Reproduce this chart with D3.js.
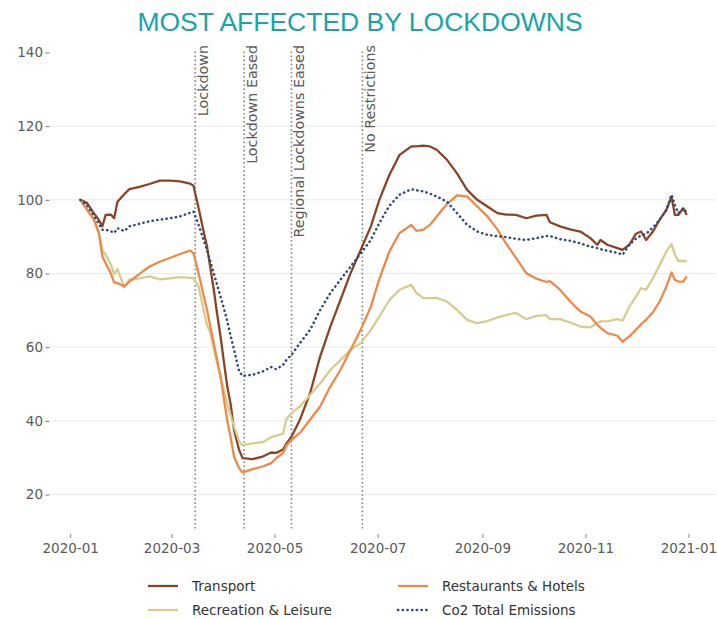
<!DOCTYPE html>
<html>
<head>
<meta charset="utf-8">
<script src="https://cdn.jsdelivr.net/npm/d3@7"></script>
<style>
  body { margin: 0; background: #fff; }
  svg { display: block; }
</style>
</head>
<body>
<svg id="chart" width="717" height="619"></svg>
<script>
// Index values (first week of January = 100), 2020
const dates = ["2020-01-07","2020-01-11","2020-01-15","2020-01-18","2020-01-20","2020-01-22","2020-01-25","2020-01-27","2020-01-29","2020-02-02","2020-02-05","2020-02-11","2020-02-17","2020-02-23","2020-02-29","2020-03-06","2020-03-12","2020-03-14","2020-03-17","2020-03-20","2020-03-22","2020-03-24","2020-03-26","2020-03-28","2020-03-30","2020-04-01","2020-04-03","2020-04-05","2020-04-07","2020-04-10","2020-04-12","2020-04-18","2020-04-24","2020-04-29","2020-05-02","2020-05-06","2020-05-08","2020-05-11","2020-05-16","2020-05-22","2020-05-28","2020-06-03","2020-06-09","2020-06-15","2020-06-21","2020-06-27","2020-07-02","2020-07-08","2020-07-14","2020-07-21","2020-07-24","2020-07-28","2020-08-01","2020-08-05","2020-08-11","2020-08-17","2020-08-23","2020-08-29","2020-09-04","2020-09-10","2020-09-15","2020-09-21","2020-09-27","2020-10-03","2020-10-09","2020-10-11","2020-10-17","2020-10-23","2020-10-29","2020-11-04","2020-11-08","2020-11-10","2020-11-14","2020-11-20","2020-11-23","2020-11-27","2020-12-01","2020-12-04","2020-12-07","2020-12-11","2020-12-15","2020-12-19","2020-12-22","2020-12-24","2020-12-26","2020-12-29","2020-12-31"];

const transport = [100,99.1,96.4,94.5,92.8,95.9,96,95,99.5,101.5,102.9,103.5,104.3,105.2,105.2,105,104.4,103.8,97.8,91.4,87.3,81.5,75.6,69,62.9,56,49.3,44.5,37.5,32.1,29.9,29.6,30.3,31.4,31.3,32.2,33.8,35.7,40.3,47.5,57.5,65.6,72.8,80.1,86.4,92.8,100,106.8,112.2,114.5,114.5,114.7,114.5,113.6,110.9,107.2,102.7,100,98.2,96.4,96,95.9,95,95.7,95.9,93.9,92.8,92,91.4,89.6,87.8,89.1,87.8,86.9,86.4,87.8,90.8,91.4,89.1,91.4,94.6,97.3,100.8,95.9,95.9,97.7,95.9];

const restaurants = [100,97.3,94.6,91,84.6,82.8,80.1,77.6,77.4,76.5,77.8,79.9,81.9,83.2,84.2,85.3,86.2,85.5,80.1,74,70.1,65.5,61.1,56.5,52,46,40,35.5,30.3,27.1,26,26.9,27.6,28.5,29.9,31.2,33.3,34.8,36.7,40.3,43.9,49.3,53.8,59.3,64.7,71,78.5,86,91,93.2,91.6,91.9,93.2,95.5,98.8,101.2,100.9,98.2,95.5,91.9,88.2,84.2,80.1,78.6,77.7,77.9,75.6,72.4,69.7,68.3,66.1,65.2,63.8,63.1,61.5,62.9,64.8,66.2,67.5,69.5,72.4,76.5,80.3,78.3,77.8,77.8,79.2];

const recreation = [100,97.3,95,91,86.4,85.1,82.5,79.8,81.2,76.3,78.3,78.7,79.2,78.4,78.7,79,78.8,78.7,76.5,70.1,66,63.8,59.5,55.7,52,48.4,44.8,41.5,38.4,34.5,33.4,33.9,34.2,35.6,36,36.5,40.5,42.1,43.9,47,50.2,53.8,56.5,59.3,61.1,64.7,68.3,72.8,75.6,76.9,74.7,73.3,73.3,73.4,72.4,70.1,67.4,66.5,67.1,68.1,68.7,69.3,67.6,68.5,68.7,67.6,67.6,66.7,65.6,65.4,66.5,67,67,67.6,67.2,71,73.7,76,75.6,78.7,82.3,86,88,85.1,83.4,83.4,83.4];

const co2 = [100,98.5,95.7,93.5,91.9,91.9,91.5,91,92.3,91.5,92.8,93.5,94.2,94.6,95,95.5,96.5,96.8,93.2,89.1,86.4,83.2,80.1,76.9,73.7,70.5,67,63,59.3,53.5,52.2,52.5,53.4,54.6,54,55.2,56.5,57.9,61.1,64.7,70.1,74.7,78.3,81.9,85.5,89.1,93.7,98.4,101.4,102.9,102.6,102.3,101.7,100.9,99.5,96.4,93.2,91.4,90.5,90.1,89.9,89.4,89.1,89.6,90.2,90.2,89.3,88.9,88.2,87.3,86.9,86.6,86.2,85.6,85.1,87.8,89.5,90.3,90.8,92.5,94.6,97.3,101.4,98.6,96.4,97.7,96.5];

// Policy milestones
const eventDates = ["2020-03-15","2020-04-13","2020-05-11","2020-06-22"];
const eventLabels = ["Lockdown","Lockdown Eased","Regional Lockdowns Eased","No Restrictions"];

// Axis ticks
const yTicks = [20,40,60,80,100,120,140];
const xTickDates = ["2020-01-01","2020-03-01","2020-05-01","2020-07-01","2020-09-01","2020-11-01","2021-01-01"];

const seriesNames = ["Transport","Restaurants & Hotels","Recreation & Leisure","Co2 Total Emissions"];
const seriesColors = ["#8a4526","#ee8a48","#d8cb8c","#2f4a80"];

const parse = d3.timeParse("%Y-%m-%d");
const svg = d3.select("#chart");

const x = d3.scaleTime()
  .domain([parse("2020-01-01"), parse("2021-01-01")])
  .range([70.2, 688.4]);
const y = d3.scaleLinear().domain([20, 140]).range([494.5, 52.5]);

const plotLeft = 51, plotRight = 716, plotBottom = 531, plotTop = y(140.3);
const tickFont = "'DejaVu Sans', sans-serif";

// Title
svg.append("text")
  .attr("x", 360).attr("y", 31)
  .attr("text-anchor", "middle")
  .attr("font-family", "'Liberation Sans', Arial, sans-serif")
  .attr("font-size", 26.5)
  .attr("fill", "#17a5a7")
  .text("MOST AFFECTED BY LOCKDOWNS");

// Horizontal grid
svg.append("g").selectAll("line")
  .data(yTicks.filter(v => v < 140))
  .join("line")
  .attr("x1", plotLeft).attr("x2", plotRight)
  .attr("y1", d => y(d)).attr("y2", d => y(d))
  .attr("stroke", "#e9e9e9").attr("stroke-width", 1);

// Y axis
const yAxis = svg.append("g")
  .attr("transform", "translate(49.5,0)")
  .call(d3.axisLeft(y).tickValues(yTicks).tickSize(4).tickPadding(2.5));
yAxis.select(".domain").remove();
yAxis.selectAll(".tick line").attr("stroke", "#777");
yAxis.selectAll("text").attr("font-family", tickFont).attr("font-size", 13.5).attr("fill", "#5a5a5a");

// X axis
const xAxis = svg.append("g")
  .attr("transform", `translate(0,${plotBottom + 3})`)
  .call(d3.axisBottom(x).tickValues(xTickDates.map(parse))
    .tickFormat(d3.timeFormat("%Y-%m")).tickSize(4).tickPadding(5));
xAxis.select(".domain").remove();
xAxis.selectAll(".tick line").attr("stroke", "#888");
xAxis.selectAll("text").attr("font-family", tickFont).attr("font-size", 13.5).attr("fill", "#5a5a5a");

// Milestone markers
const ev = svg.append("g");
eventDates.forEach((d, i) => {
  const xp = x(parse(d));
  ev.append("line")
    .attr("x1", xp).attr("x2", xp)
    .attr("y1", plotTop).attr("y2", plotBottom)
    .attr("stroke", "#858585").attr("stroke-width", 1.6)
    .attr("stroke-dasharray", "1.6 2.5");
  ev.append("text")
    .attr("transform", `translate(${xp + 12.5},45) rotate(-90)`)
    .attr("text-anchor", "end")
    .attr("font-family", tickFont)
    .attr("font-size", 14.3)
    .attr("fill", "#5a5a5a")
    .text(eventLabels[i]);
});

// Series
const seriesData = [transport, restaurants, recreation, co2];
const line = d3.line().x(d => x(d.date)).y(d => y(d.v));
const drawOrder = [0, 2, 1, 3];
drawOrder.forEach(k => {
  const pts = dates.map((d, i) => ({ date: parse(d), v: seriesData[k][i] }));
  const p = svg.append("path")
    .datum(pts)
    .attr("d", line)
    .attr("fill", "none")
    .attr("stroke", seriesColors[k])
    .attr("stroke-width", k === 3 ? 2.5 : 2.3)
    .attr("stroke-linejoin", "round");
  if (k === 3) {
    p.attr("stroke-dasharray", "0.3 4.4").attr("stroke-linecap", "round");
  }
});

// Legend (two columns)
const legendPos = [
  { x: 148, y: 586 }, // Transport
  { x: 398, y: 586 }, // Restaurants & Hotels
  { x: 148, y: 610 }, // Recreation & Leisure
  { x: 398, y: 610 }  // Co2 Total Emissions
];
const lg = svg.append("g");
seriesNames.forEach((name, k) => {
  const pos = legendPos[k];
  const l = lg.append("line")
    .attr("x1", pos.x).attr("x2", pos.x + 30)
    .attr("y1", pos.y).attr("y2", pos.y)
    .attr("stroke", seriesColors[k])
    .attr("stroke-width", k === 3 ? 2.5 : 2.3);
  if (k === 3) l.attr("stroke-dasharray", "0.3 4.4").attr("stroke-linecap", "round");
  lg.append("text")
    .attr("x", pos.x + 44).attr("y", pos.y)
    .attr("dy", "0.36em")
    .attr("font-family", tickFont)
    .attr("font-size", 13.5)
    .attr("fill", "#333")
    .text(name);
});
</script>
</body>
</html>
